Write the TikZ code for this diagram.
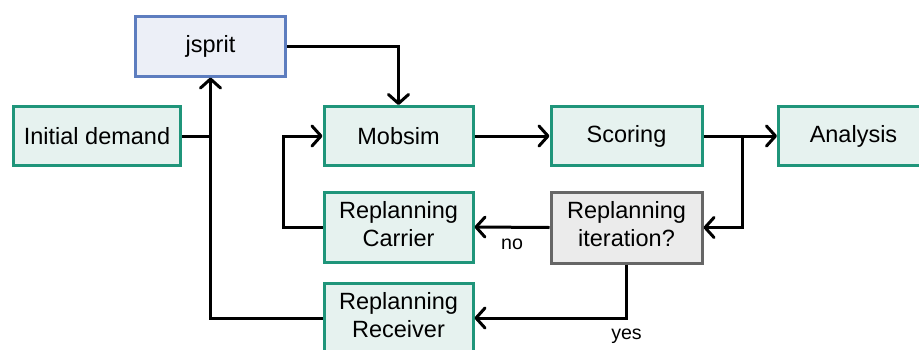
\documentclass[tikz,border=0pt]{standalone}
\usepackage{fontspec}
\setmainfont{Liberation Sans}
\usetikzlibrary{arrows.meta}
\definecolor{greenfill}{HTML}{E6F2EF}
\definecolor{greenline}{HTML}{1F957A}
\definecolor{bluefill}{HTML}{ECEFF7}
\definecolor{blueline}{HTML}{5D7DBF}
\definecolor{grayfill}{HTML}{EBEBEB}
\definecolor{grayline}{HTML}{666666}
\tikzset{
  box/.style={rectangle, draw, line width=3pt, align=center,
    font=\fontsize{23.5}{28}\selectfont, inner sep=0pt},
  greenbox/.style={box, fill=greenfill, draw=greenline},
  bluebox/.style={box, fill=bluefill, draw=blueline},
  graybox/.style={box, fill=grayfill, draw=grayline},
  twoline/.style={text depth=6.5pt},
  arr/.style={line width=3pt, line join=miter,
    -{Straight Barb[length=9pt, width=20pt, line width=3pt, round]}},
  link/.style={line width=3pt, line join=miter},
  lbl/.style={font=\fontsize{19.6}{23}\selectfont, inner sep=0pt}
}
\begin{document}
\begin{tikzpicture}[x=1pt, y=-1pt]
\useasboundingbox (0,0) rectangle (919,349);
\clip (0,0) rectangle (919,349);

% process boxes
\node[bluebox, minimum width=150pt, minimum height=60pt] (jsprit) at (210.5,46) {jsprit};
\node[greenbox, minimum width=167pt, minimum height=59pt] (init) at (97,136) {Initial demand};
\node[greenbox, minimum width=149pt, minimum height=59pt] (mobsim) at (398.5,136) {Mobsim};
\node[greenbox, minimum width=151pt, minimum height=59pt] (scoring) at (626.5,136) {Scoring};
\node[greenbox, minimum width=150pt, minimum height=59pt] (analysis) at (853.5,136) {Analysis};
\node[greenbox, twoline, minimum width=149pt, minimum height=70pt] (carrier) at (398.5,227) {Replanning\\Carrier};
\node[graybox, twoline, minimum width=151pt, minimum height=71pt] (iter) at (626.5,227.5) {Replanning\\iteration?};
\node[greenbox, twoline, minimum width=149pt, minimum height=70pt] (receiver) at (398.5,318) {Replanning\\Receiver};

% junction after scoring
\coordinate (split) at (742,136);

% connectors
\draw[link] (init.east) -- (init.east -| jsprit.south);
\draw[arr] (receiver.west) -| (jsprit.south);
\draw[arr] (jsprit.east) -| (mobsim.north);
\draw[arr] (mobsim.east) -- (scoring.west);
\draw[arr] (scoring.east) -- (analysis.west);
\draw[arr] (split) |- (iter.east);
\draw[arr] (iter.west) -- node[lbl, below=10pt] {no} (carrier.east);
\draw[arr] (carrier.west) -- ([xshift=-39pt]carrier.west) |- (mobsim.west);
\draw[arr] (iter.south) |- node[lbl, pos=0.5, below=9pt] {yes} (receiver.east);
\end{tikzpicture}
\end{document}
